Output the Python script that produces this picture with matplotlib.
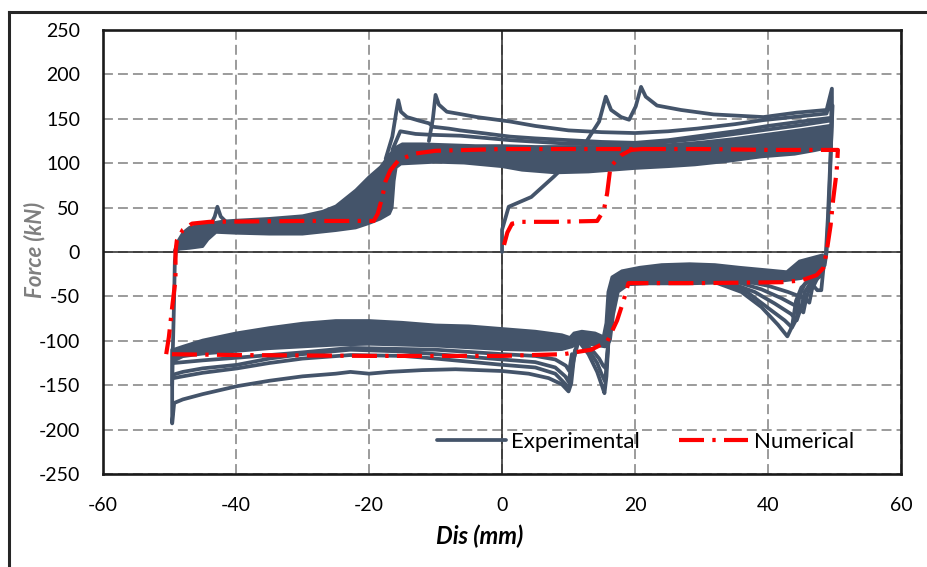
import matplotlib
matplotlib.use("Agg")
import matplotlib.pyplot as plt
from matplotlib.lines import Line2D

plt.rcParams['font.family'] = ['Lato', 'DejaVu Sans']
plt.rcParams['axes.unicode_minus'] = False

EXP = "#44546A"
NUM = "#FF0000"

x_ticks = [-60, -40, -20, 0, 20, 40, 60]
y_ticks = [-250, -200, -150, -100, -50, 0, 50, 100, 150, 200, 250]

# --- Experimental: dense parts of the loops (outline) ---
upper_band = [
    (-49.3, 1), (-48.8, 12), (-48.0, 22), (-47.0, 28), (-45.0, 31), (-42.0, 35),
    (-40, 36), (-35, 38), (-30, 41), (-27, 46), (-25, 52), (-22, 70), (-20, 85),
    (-18.3, 96), (-16.8, 111), (-16.0, 118), (-15, 122), (-12, 122), (-8, 121),
    (-4, 120), (0, 120), (5, 119), (10, 119), (15, 119), (20, 120), (25, 121),
    (30, 124), (35, 128), (40, 133), (45, 138), (49.5, 143),
    (49.5, 118), (47, 114), (44, 110), (39, 107), (34, 102), (29, 98), (25, 96),
    (20, 94), (13, 90), (8, 89), (3, 92), (0, 96), (-5.7, 100), (-10, 101),
    (-15.2, 99), (-15.9, 95), (-16.2, 80), (-16.5, 50), (-16.9, 43), (-18.3, 37),
    (-20, 32), (-22, 27), (-25, 24), (-30, 20), (-35, 20), (-40, 21), (-43, 22),
    (-44.2, 14), (-45, 6), (-47.0, 4), (-48.5, 3), (-49.3, 0),
]
lower_band = [
    (-49.6, -110), (-48, -106), (-45, -99), (-40, -91), (-35, -85), (-30, -80),
    (-25, -77), (-20, -77), (-15, -79), (-10, -82), (-5, -83), (0, -86), (5, -89),
    (9, -93), (10.2, -96), (10.8, -91), (12, -89), (14, -91), (15.2, -95),
    (15.6, -80), (15.9, -45), (16.5, -28), (18, -21), (20.7, -17), (24, -14),
    (28.2, -13), (32, -14), (35.7, -17), (40, -20), (42.8, -22), (44.7, -10),
    (48.2, -3),
    (48.4, -18), (47, -25), (45, -30), (42, -33), (38, -35), (33, -35), (28, -36),
    (22, -36), (19, -37), (17.5, -45), (16.8, -70), (16.3, -100), (15.5, -107),
    (13, -104), (11.5, -103), (10.5, -107), (9, -110), (5, -111), (0, -110),
    (-5, -108), (-10, -106), (-15, -105), (-20, -104), (-25, -105), (-30, -107),
    (-35, -109), (-40, -112), (-45, -115), (-48, -118), (-49.6, -124),
]

# --- Experimental: single traces that stand out of the bands ---
exp_initial = [
    (0, 0), (0, 25), (1.0, 51), (4.4, 62), (7.8, 85), (10.8, 107), (12.3, 120),
    (14.6, 147), (15.6, 175), (16.4, 160), (17.9, 152), (19.1, 149), (20.1, 164),
    (20.9, 186), (21.6, 175), (23.3, 165), (26.9, 160), (31.8, 155), (39.3, 152),
    (44.3, 157), (48.8, 160), (49.6, 184), (49.6, 150), (49.2, 60), (48.8, 0),
    (48.5, -15),
]
exp_spike_a = [
    (-17.5, 105), (-16.5, 130), (-15.9, 158), (-15.6, 171), (-15.2, 158),
    (-14.3, 152), (-12.5, 148), (-11.0, 145), (-10.3, 141), (-8, 139),
    (-6.3, 137), (-3, 134), (1.2, 130), (5, 128), (10, 126), (15, 124),
    (20, 123), (25, 126), (30, 131), (35, 136), (40, 142), (45, 147), (49.3, 151),
]
exp_spike_b = [
    (-11, 125), (-10.4, 150), (-10, 177), (-9.5, 166), (-8.3, 158), (-6, 155),
    (-3.8, 152), (1.2, 147), (5, 142), (10, 137), (15, 135), (20, 134),
    (25, 136), (29.3, 139), (35, 144), (39.3, 148.6), (45, 153), (48.8, 156),
    (49.5, 175), (49.5, 140),
]
exp_upper_c = [
    (-16.5, 115), (-15.3, 136), (-13, 133), (-10.6, 132), (-6.3, 131),
    (1.2, 126), (10, 122), (20, 121), (25, 124), (30, 128), (35, 133),
    (40, 138), (45, 143), (49.3, 148),
]
exp_spike_left = [(-44, 28), (-43.2, 40), (-42.8, 51), (-42.3, 40), (-41.5, 34)]
exp_right_drop = [
    (49.7, 165), (49.4, 110), (49.0, 40), (48.7, 0), (48.3, -20), (48.0, -43),
    (47.4, -43), (46.5, -35),
]
exp_left_rise = [
    (-49.6, -150), (-49.5, -110), (-49.3, -50), (-49.2, -10), (-49.0, 2),
    (-48.6, 6),
]
exp_lower_a = [
    (-49.6, -110), (-49.6, -193), (-49.3, -170), (-48, -166), (-45, -160),
    (-39.8, -151), (-35, -145), (-30, -140), (-25, -137), (-22.8, -135),
    (-20, -137), (-17, -135), (-12, -133), (-7, -132), (0, -134), (4, -137),
    (7, -142), (9, -149), (10, -157), (10.4, -148), (10.8, -120), (11.5, -100),
]
exp_lower_b = [
    (-49.4, -142), (-48, -140), (-45, -136), (-39.8, -131), (-35, -125),
    (-30, -120), (-22.8, -116), (-15, -117), (-10, -120), (0, -127), (5, -130),
    (8, -137), (9.7, -150), (10.1, -152), (10.6, -128), (11.2, -105),
]
exp_lower_c = [
    (-49.4, -138), (-48, -135), (-45, -131), (-39.8, -127), (-35, -120),
    (-30, -115), (-22.8, -110), (-15, -112), (-10, -115), (0, -121), (5, -124),
    (8, -130), (9.5, -140), (10, -146), (10.5, -125), (11, -110),
]
exp_lower_d = [
    (-49.4, -125), (-45, -122), (-39.8, -119), (-30, -113), (-22.8, -108),
    (-10, -110), (0, -115), (5, -117), (8, -121), (9.6, -128), (10.1, -134),
    (10.5, -115),
]
exp_dip_a = [(11.5, -100), (13, -115), (14.3, -135), (15.0, -150), (15.4, -159),
             (15.7, -140), (16.0, -100)]
exp_dip_b = [(11.5, -98), (13, -110), (14.3, -125), (15.0, -138), (15.5, -146),
             (15.8, -120), (16.1, -90)]
exp_dip_c = [(12, -100), (13.5, -110), (14.6, -120), (15.2, -128), (15.6, -131),
             (16, -100)]
exp_fan_a = [(32, -34), (36, -45), (39, -62), (41.5, -82), (42.9, -95),
             (43.6, -84), (44.2, -55), (45, -40), (46.5, -30), (48, -22)]
exp_fan_b = [(33, -34), (37, -46), (40, -63), (42.5, -77), (43.6, -85),
             (44.3, -75), (44.7, -50), (45.5, -36), (47, -26)]
exp_fan_c = [(34, -34), (38, -45), (41, -58), (43.5, -70), (44.3, -77),
             (45, -62), (45.5, -45), (47, -28)]
exp_fan_d = [(35, -33), (39, -42), (42, -52), (44.5, -62), (45.3, -68),
             (45.8, -50), (46.5, -36), (48, -26)]
exp_fan_e = [(36, -32), (40, -38), (43, -45), (45.5, -52), (46.2, -57),
             (46.6, -42), (47.5, -28)]

exp_traces = [exp_initial, exp_spike_a, exp_spike_b, exp_upper_c, exp_spike_left,
              exp_right_drop, exp_left_rise, exp_lower_a, exp_lower_b,
              exp_lower_c, exp_lower_d, exp_dip_a, exp_dip_b, exp_dip_c,
              exp_fan_a, exp_fan_b, exp_fan_c, exp_fan_d, exp_fan_e]

# --- Numerical ---
num_initial = [
    (0.3, 8), (0.8, 22), (1.5, 32), (3, 34), (8, 34), (14.3, 35), (15.3, 47),
    (15.8, 66), (16.3, 96), (17.9, 109), (19.4, 115), (21, 116),
]
num_loop = [
    (-50.5, -115), (-50.1, -96), (-49.6, -62), (-49.1, -31), (-49.1, 0),
    (-48.9, 13), (-48, 25), (-46.6, 32), (-44, 34), (-30, 35), (-19.3, 35),
    (-18.7, 43), (-18.0, 62), (-17.5, 80), (-16.8, 92), (-15.5, 104),
    (-13, 111), (-10, 114), (0, 116), (10, 116), (20, 116), (30, 116),
    (40, 115), (50.5, 115), (50.3, 90), (49.8, 60), (49.4, 30), (48.8, 0),
    (48.3, -18), (47.3, -26), (45, -32), (42, -34), (30, -35), (19, -35),
    (18.3, -54), (17.3, -77), (15.8, -101), (13.4, -110), (9.3, -115),
    (0, -117), (-20, -117), (-40, -116), (-50.5, -115),
]


def xy(points):
    return [p[0] for p in points], [p[1] for p in points]


fig = plt.figure(figsize=(9.28, 5.67), dpi=100)
ax = fig.add_axes([0.111, 0.164, 0.860, 0.783])

# outer chart frame (cropped at the right and bottom)
fig.add_artist(Line2D([0.0102, 0.0102], [0, 0.978], color="#262626", lw=2.2,
                      transform=fig.transFigure))
fig.add_artist(Line2D([0.0102, 1.0], [0.978, 0.978], color="#262626", lw=2.2,
                      transform=fig.transFigure))

ax.set_xlim(-60, 60)
ax.set_ylim(-250, 250)
ax.set_xticks(x_ticks)
ax.set_yticks(y_ticks)
ax.set_xticklabels([str(v) for v in x_ticks])
ax.set_yticklabels([str(v) for v in y_ticks])
ax.tick_params(length=0, pad=16.5, labelsize=14, colors="black")
ax.set_axisbelow(True)
ax.grid(True, color="#808080", lw=1.1, linestyle=(0, (6.5, 3.3)))
for s in ax.spines.values():
    s.set_linewidth(1.9)
    s.set_color("#1a1a1a")
ax.axhline(0, color="#262626", lw=1.1, zorder=2)
ax.axvline(0, color="#262626", lw=1.1, zorder=2)

for band in (upper_band, lower_band):
    bx, by = xy(band)
    ax.fill(bx, by, facecolor=EXP, edgecolor=EXP, lw=1.8, joinstyle="round", zorder=3)

for i, tr in enumerate(exp_traces):
    tx, ty = xy(tr)
    ax.plot(tx, ty, color=EXP, lw=2.7, solid_joinstyle="round",
            solid_capstyle="round", zorder=3,
            label="Experimental" if i == 0 else None)

dash = (6.0, 2.0, 0.8, 2.0)
nx, ny = xy(num_loop)
ax.plot(nx, ny, color=NUM, lw=3.0, dashes=dash, zorder=4, label="Numerical")
nx, ny = xy(num_initial)
ax.plot(nx, ny, color=NUM, lw=3.0, dashes=dash, zorder=4)

ax.set_xlabel("Dis (mm)", fontsize=17, fontweight="bold", fontstyle="italic")
ax.xaxis.set_label_coords(0.472, -0.113)
ax.set_ylabel("Force (kN)", fontsize=16, fontweight="bold", fontstyle="italic",
              color="#7f7f7f")
ax.yaxis.set_label_coords(-0.072, 0.505)

ax.legend(loc="center left", bbox_to_anchor=(0.4185, 0.0720), ncol=2,
          frameon=False, fontsize=16, handlelength=3.1, handletextpad=0.25,
          columnspacing=1.75, borderpad=0, borderaxespad=0)

fig.savefig("out.png", dpi=100)
